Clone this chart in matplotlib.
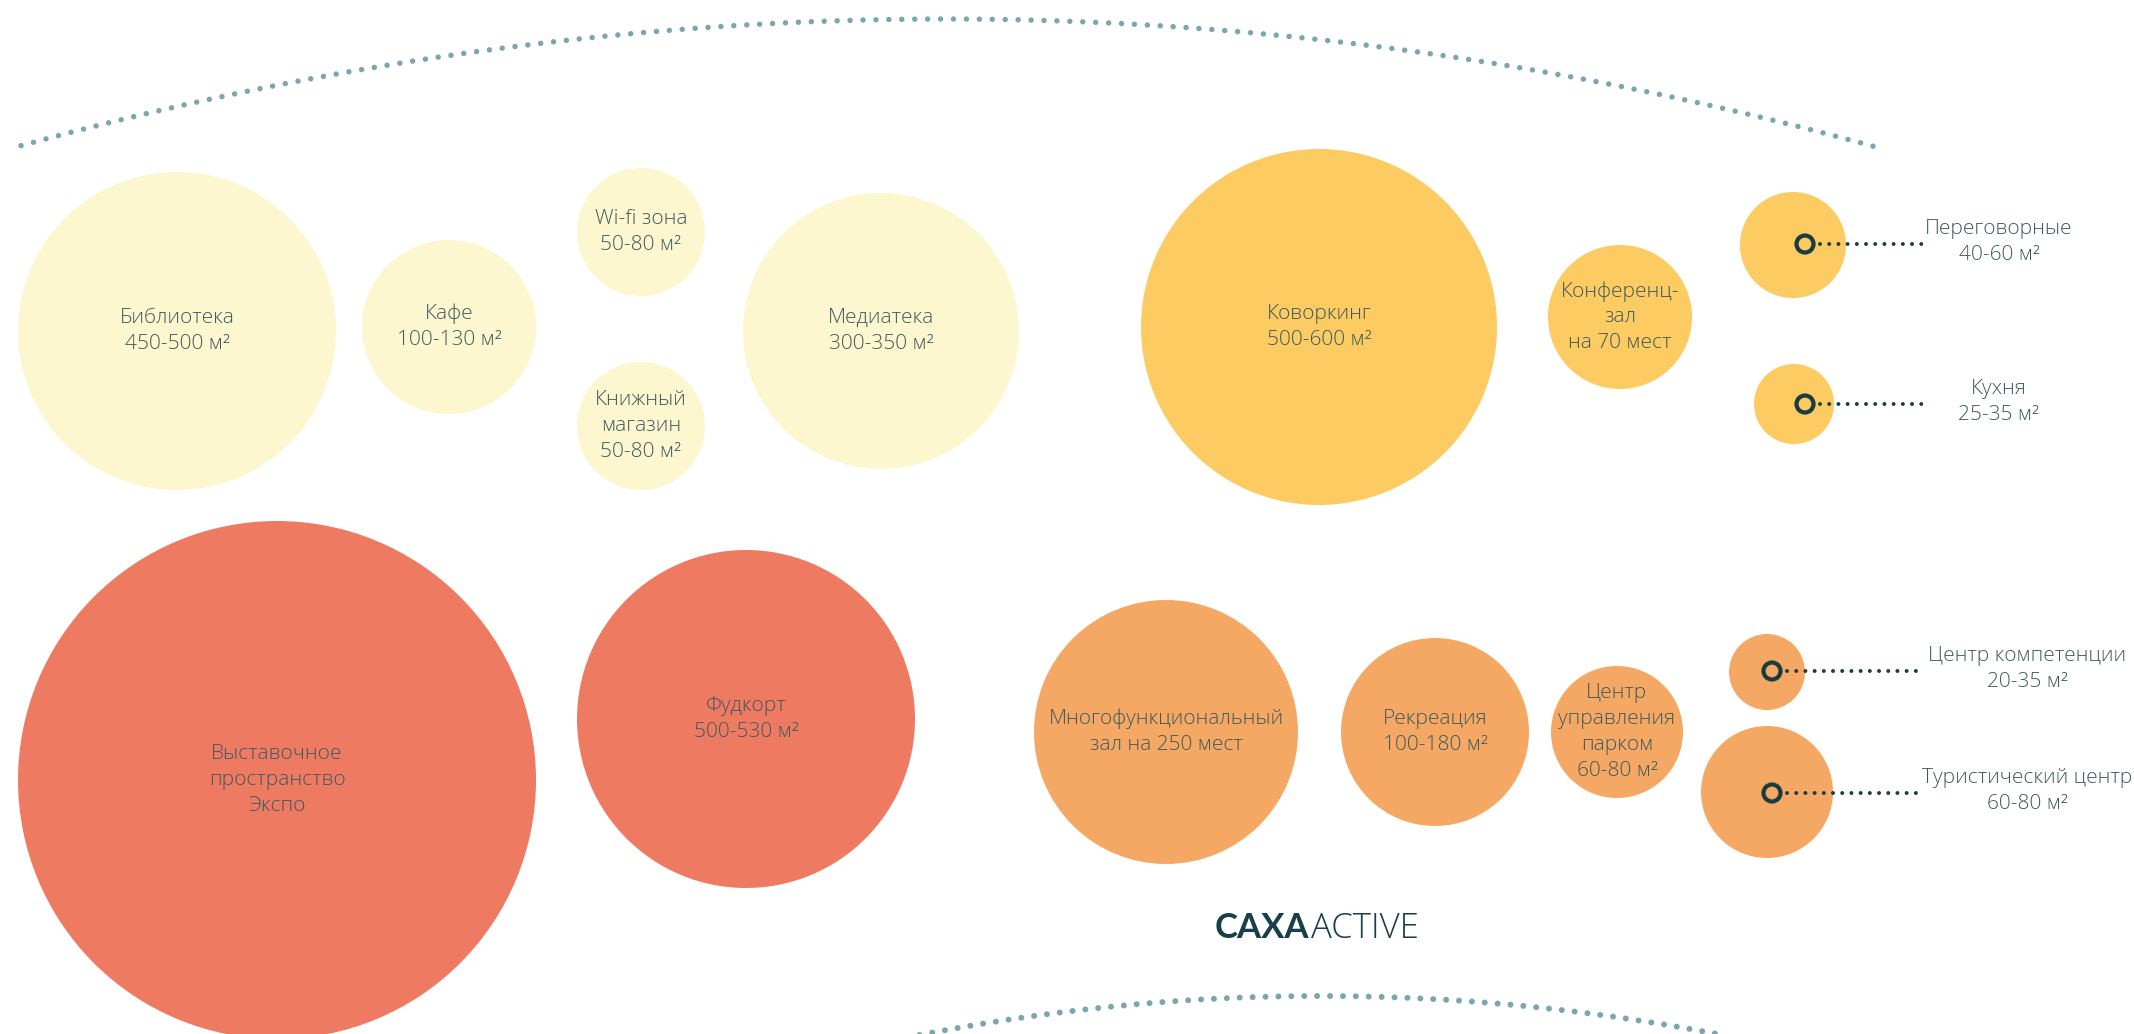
import numpy as np
import matplotlib
matplotlib.use("Agg")
import matplotlib.pyplot as plt
from matplotlib.patches import Circle

plt.rcParams['font.family'] = ['Open Sans', 'DejaVu Sans']

# ---------------- data ----------------
labels = [
    "Библиотека\n450-500 м²",
    "Кафе\n100-130 м²",
    "Wi-fi зона\n50-80 м²",
    "Книжный\nмагазин\n50-80 м²",
    "Медиатека\n300-350 м²",
    "Коворкинг\n500-600 м²",
    "Конференц-\nзал\nна 70 мест",
    "Выставочное\nпространство\nЭкспо",
    "Фудкорт\n500-530 м²",
    "Многофункциональный\nзал на 250 мест",
    "Рекреация\n100-180 м²",
    "Центр\nуправления\nпарком\n60-80 м²",
]
groups = ["light", "light", "light", "light", "light",
          "yellow", "yellow",
          "coral", "coral",
          "orange", "orange", "orange"]

side_labels = ["Переговорные\n40-60 м²", "Кухня\n25-35 м²",
               "Центр компетенции\n20-35 м²", "Туристический центр\n60-80 м²"]
side_groups = ["yellow", "yellow", "orange", "orange"]

brand_bold = "CAXA"
brand_light = "ACTIVE"

# ---------------- layout (pixels) ----------------
cx = [177, 449, 641, 641, 881, 1319, 1620, 277, 746, 1166, 1435, 1617]
cy = [331, 327, 232, 426, 331, 327, 317, 780, 719, 732, 732, 732]
rad = [159, 87, 64, 64, 138, 178, 72, 259, 169, 132, 94, 66]

side_cx = [1793, 1794, 1767, 1767]
side_cy = [245, 404, 672, 792]
side_r = [53, 40, 38, 66]
ring_x = [1805, 1805, 1772, 1772]
ring_y = [244, 404, 671, 793]
lead_end = 1923
side_tx = [1999, 1999, 2027, 2027]

colors = {"light": "#fcf7cf", "yellow": "#fccb62",
          "coral": "#ef7a62", "orange": "#f5a863"}
text_col = "#3f5a5e"
dark = "#1b3c40"
arc_col = "#7aa6af"

W, H = 2134, 1034
fig = plt.figure(figsize=(W / 100, H / 100), dpi=100)
ax = fig.add_axes([0, 0, 1, 1])
ax.set_xlim(0, W)
ax.set_ylim(H, 0)
ax.set_aspect('equal')
ax.axis('off')

PT = 72 / 100  # points per pixel

for lab, g, x, y, r in zip(labels, groups, cx, cy, rad):
    ax.add_patch(Circle((x, y), r, facecolor=colors[g], edgecolor='none', zorder=1))
    ax.text(x, y, lab, ha='center', va='center', multialignment='center',
            fontsize=15, color=text_col, fontweight='light', linespacing=1.38, zorder=3)

for lab, g, x, y, r, rx, ry, tx in zip(side_labels, side_groups, side_cx, side_cy,
                                       side_r, ring_x, ring_y, side_tx):
    ax.add_patch(Circle((x, y), r, facecolor=colors[g], edgecolor='none', zorder=1))
    ax.plot([rx + 15, lead_end], [ry, ry], color=dark, lw=4 * PT,
            linestyle=(0, (0.001, 2.3)), dash_capstyle='round', zorder=2)
    ax.add_patch(Circle((rx, ry), 8.5, facecolor='none', edgecolor=dark,
                        linewidth=4.2 * PT, zorder=3))
    ax.text(tx, ry - 2, lab, ha='center', va='center', multialignment='center',
            fontsize=15, color=text_col, fontweight='light', linespacing=1.38, zorder=3)

# decorative dotted arcs
xt = np.linspace(21, 1875, 600)
yt = 19 + 1.48e-4 * (xt - 946) ** 2
ax.plot(xt, yt, color=arc_col, lw=5.5 * PT, linestyle=(0, (0.001, 2.35)),
        dash_capstyle='round', zorder=0)

xb = np.linspace(880, 1770, 600)
yb = 996 + 2.42e-4 * (xb - 1321) ** 2
ax.plot(xb, yb, color=arc_col, lw=6 * PT, linestyle=(0, (0.001, 2.15)),
        dash_capstyle='round', zorder=0)

# brand
ax.text(1309, 938, brand_bold, ha='right', va='baseline', fontsize=25,
        fontweight='bold', color="#17404a", family=['Lato', 'DejaVu Sans'])
ax.text(1311, 938, brand_light, ha='left', va='baseline', fontsize=25,
        fontweight='light', color="#17404a", family=['Open Sans', 'DejaVu Sans'])

fig.savefig("out.png", dpi=100, facecolor='white')
